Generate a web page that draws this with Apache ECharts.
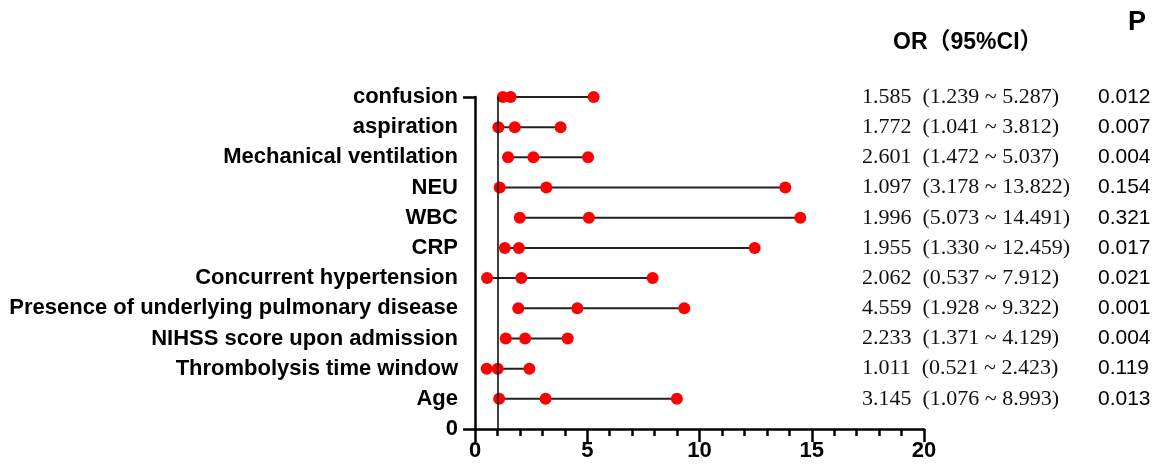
<!DOCTYPE html>
<html>
<head>
<meta charset="utf-8">
<style>
  html, body { margin: 0; padding: 0; background: #fff; }
  #chart { width: 1159px; height: 471px; }
</style>
<script src="https://cdn.jsdelivr.net/npm/echarts@6/dist/echarts.min.js"></script>
</head>
<body>
<div id="chart"></div>
<script>
// rows from bottom to top
const names = ['Age', 'Thrombolysis time window', 'NIHSS score upon admission',
  'Presence of underlying pulmonary disease', 'Concurrent hypertension', 'CRP', 'WBC',
  'NEU', 'Mechanical ventilation', 'aspiration', 'confusion']
const orValues = [3.145, 1.011, 2.233, 4.559, 2.062, 1.955, 1.996, 1.097, 2.601, 1.772, 1.585]
const ciLower = [1.076, 0.521, 1.371, 1.928, 0.537, 1.330, 5.073, 3.178, 1.472, 1.041, 1.239]
const ciUpper = [8.993, 2.423, 4.129, 9.322, 7.912, 12.459, 14.491, 13.822, 5.037, 3.812, 5.287]
const pValues = ['0.013', '0.119', '0.004', '0.001', '0.021', '0.017', '0.321', '0.154', '0.004', '0.007', '0.012']
const xTicks = [0, 5, 10, 15, 20]
const refValue = 1

const categories = ['0'].concat(names)
const sans = 'Liberation Sans, Arial, sans-serif'

const chart = echarts.init(document.getElementById('chart'))

// dots: OR, lower and upper for each row
let dots = []
let segs = []
names.forEach((name, i) => {
  dots.push([orValues[i], name], [ciLower[i], name], [ciUpper[i], name])
  let lo = Math.min(orValues[i], ciLower[i], ciUpper[i])
  let hi = Math.max(orValues[i], ciLower[i], ciUpper[i])
  segs.push([lo, hi, name])
})

const orText = (i) => orValues[i].toFixed(3) + '  (' + ciLower[i].toFixed(3) + ' ~ ' + ciUpper[i].toFixed(3) + ')'

chart.setOption({
  animation: false,
  grid: { left: 475, right: 235, top: 97, bottom: 42 },
  xAxis: {
    type: 'value',
    min: xTicks[0],
    max: xTicks[xTicks.length - 1],
    interval: 5,
    axisLine: { show: true, lineStyle: { color: '#000', width: 2.5 } },
    axisTick: { show: true, length: 13, lineStyle: { color: '#000', width: 2.5 } },
    minorTick: { show: true, splitNumber: 5, length: 7, lineStyle: { color: '#000', width: 2.5 } },
    splitLine: { show: false },
    axisLabel: { color: '#000', fontFamily: sans, fontWeight: 'bold', fontSize: 22, margin: 11 }
  },
  yAxis: [
    {
      type: 'category',
      data: categories,
      boundaryGap: false,
      axisLine: { show: true, lineStyle: { color: '#000', width: 2.5 } },
      axisTick: {
        show: true, length: 12,
        interval: (idx) => idx === 0 || idx === categories.length - 1,
        lineStyle: { color: '#000', width: 2.5 }
      },
      axisLabel: { color: '#000', fontFamily: sans, fontWeight: 'bold', fontSize: 22, margin: 17, interval: 0 },
      splitLine: { show: false }
    },
    {
      // OR (95%CI) column
      type: 'category',
      data: categories,
      boundaryGap: false,
      position: 'right',
      offset: -62,
      axisLine: { show: false },
      axisTick: { show: false },
      axisLabel: {
        interval: 0, margin: 0, align: 'left',
        color: '#111', fontFamily: 'Liberation Serif, Times New Roman, serif', fontSize: 22,
        formatter: (v, idx) => idx === 0 ? '' : orText(idx - 1)
      }
    },
    {
      // P column
      type: 'category',
      data: categories,
      boundaryGap: false,
      position: 'right',
      offset: 174,
      axisLine: { show: false },
      axisTick: { show: false },
      axisLabel: {
        interval: 0, margin: 0, align: 'left',
        color: '#000', fontFamily: sans, fontSize: 21,
        formatter: (v, idx) => idx === 0 ? '' : pValues[idx - 1]
      }
    }
  ],
  graphic: [
    {
      type: 'text', left: 893, top: 31,
      style: { text: 'OR（95%CI）', fill: '#000', font: 'bold 23px "Liberation Sans", "Noto Sans CJK SC", sans-serif' }
    },
    {
      type: 'text', left: 1128, top: 9,
      style: { text: 'P', fill: '#000', font: 'bold 27px "Liberation Sans", sans-serif' }
    }
  ],
  series: [
    {
      type: 'custom',
      data: segs,
      encode: { x: [0, 1], y: 2 },
      renderItem: (params, api) => {
        let a = api.coord([api.value(0), api.value(2)])
        let b = api.coord([api.value(1), api.value(2)])
        return {
          type: 'line',
          shape: { x1: a[0], y1: a[1], x2: b[0], y2: b[1] },
          style: { stroke: '#222', lineWidth: 2 }
        }
      },
      z: 2
    },
    {
      type: 'scatter',
      data: dots,
      symbol: 'circle',
      symbolSize: 12,
      itemStyle: { color: '#ff0000', opacity: 1 },
      z: 3,
      markLine: {
        silent: true,
        symbol: 'none',
        label: { show: false },
        lineStyle: { color: '#000', width: 1.5, type: 'solid' },
        data: [[{ coord: [refValue, categories[0]] }, { coord: [refValue, categories[categories.length - 1]] }]]
      }
    }
  ]
})
</script>
</body>
</html>
